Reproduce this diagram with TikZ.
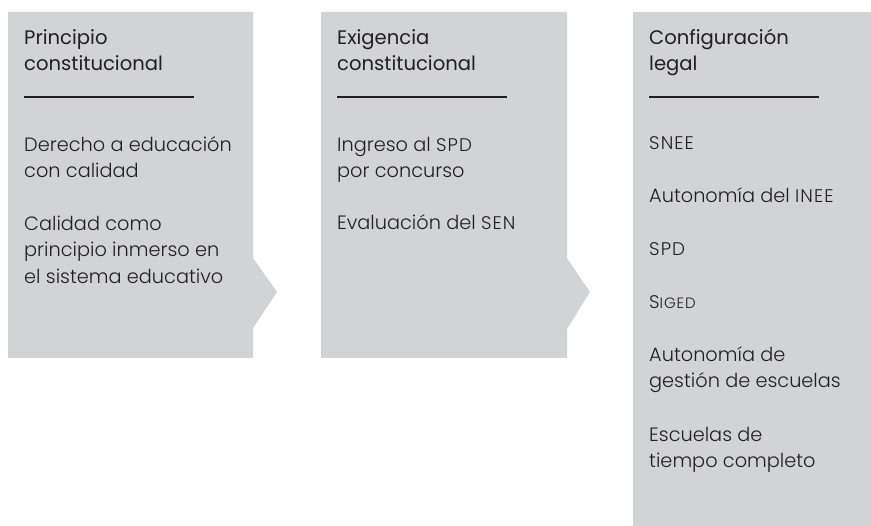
\documentclass[tikz,border=0pt]{standalone}
\usepackage{fontspec}
\setmainfont{Poppins}
\newfontfamily\bodyfont{Poppins Light}
\definecolor{boxgray}{HTML}{D1D3D4}
\definecolor{ink}{HTML}{231F20}
\newcommand{\acr}[1]{{\fontsize{18.3}{26}\selectfont\addfontfeature{LetterSpace=6}#1}}
\newcommand{\acrs}[1]{{\fontsize{15}{26}\selectfont\addfontfeature{LetterSpace=6}#1}}
\begin{document}
\begin{tikzpicture}[x=1pt,y=-1pt,
  lbl/.style={anchor=base west, inner sep=0pt, text=ink, font=\bodyfont\fontsize{19.3}{26}\selectfont},
  ttl/.style={anchor=base west, inner sep=0pt, text=ink, font=\fontsize{19.6}{26}\selectfont},
  rule/.style={draw=ink, line width=1.4pt},
  panel/.style={fill=boxgray}]
\useasboundingbox (0,0) rectangle (871,526);
% panels
\path[panel] (8,12) -- (253,12) -- (253,258) -- (277,292) -- (253,328) -- (253,358) -- (8,358) -- cycle;
\path[panel] (321,12) -- (567,12) -- (567,258) -- (590,292) -- (567,329) -- (567,358) -- (321,358) -- cycle;
\path[panel] (633,12) rectangle (871,526);
% box 1
\node[ttl] (t1a) at (24,45) {Principio};
\node[ttl] (t1b) at (24,71) {constitucional};
\coordinate (r1a) at (24,97); \coordinate (r1b) at (194,97);
\draw[rule] (r1a) -- (r1b);
\node[lbl] (a1) at (24,152) {Derecho a educación};
\node[lbl] (a2) at (24,178) {con calidad};
\node[lbl] (a3) at (24,231) {Calidad como};
\node[lbl] (a4) at (24,257) {principio inmerso en};
\node[lbl] (a5) at (24,284) {el sistema educativo};
% box 2
\node[ttl] (t2a) at (337,45) {Exigencia};
\node[ttl] (t2b) at (337,71) {constitucional};
\coordinate (r2a) at (337,97); \coordinate (r2b) at (507,97);
\draw[rule] (r2a) -- (r2b);
\node[lbl] (b1) at (337,152) {Ingreso al \acr{SPD}};
\node[lbl] (b2) at (337,178) {por concurso};
\node[lbl] (b3) at (337,230) {Evaluación del \acr{SEN}};
% box 3
\node[ttl] (t3a) at (649,45) {Configuración};
\node[ttl] (t3b) at (649,71) {legal};
\coordinate (r3a) at (649,97); \coordinate (r3b) at (819,97);
\draw[rule] (r3a) -- (r3b);
\node[lbl] (c1) at (649,150) {\acr{SNEE}};
\node[lbl] (c2) at (649,203) {Autonomía del \acr{INEE}};
\node[lbl] (c3) at (649,256) {\acr{SPD}};
\node[lbl] (c4) at (649,309) {\acr{S}\acrs{IGED}};
\node[lbl] (c5) at (649,362) {Autonomía de};
\node[lbl] (c6) at (649,388) {gestión de escuelas};
\node[lbl] (c7) at (649,442) {Escuelas de};
\node[lbl] (c8) at (649,468) {tiempo completo};
\end{tikzpicture}
\end{document}
